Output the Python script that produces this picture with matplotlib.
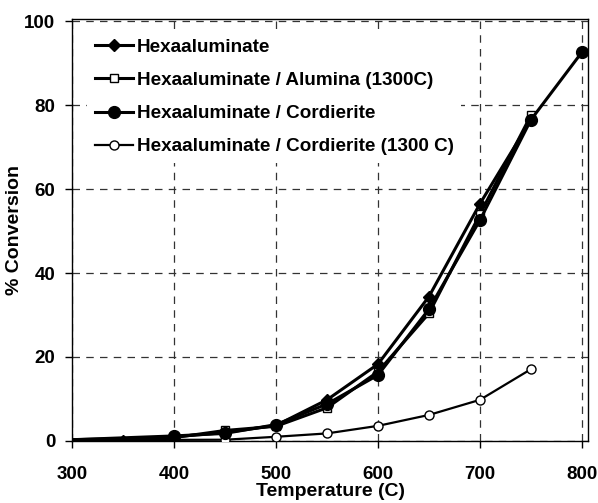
import numpy as np
import matplotlib.pyplot as plt

plt.rcParams['font.family'] = ['Liberation Sans', 'DejaVu Sans']
plt.rcParams['font.weight'] = 'bold'

# data
t_hexa = [300, 350, 400, 450, 500, 550, 600, 650, 700, 750]
c_hexa = [0.3, 0.0, 1.0, 2.0, 3.7, 9.8, 18.3, 34.4, 56.5, 76.5]

t_alum = [300, 400, 450, 500, 550, 600, 650, 700, 750]
c_alum = [0.3, 0.8, 2.5, 3.5, 7.9, 16.5, 30.4, 54.0, 77.6]

t_cord = [300, 400, 450, 500, 550, 600, 650, 700, 750, 800]
c_cord = [0.3, 1.2, 1.8, 3.9, 8.8, 15.7, 31.4, 52.6, 76.5, 92.6]

t_cord13 = [300, 450, 500, 550, 600, 650, 700, 750]
c_cord13 = [0.2, 0.3, 1.0, 1.8, 3.6, 6.2, 9.8, 17.1]

fig = plt.figure(figsize=(5.98, 5.03), dpi=100)
ax = fig.add_axes([0.1204, 0.1233, 0.863, 0.839])

lw = 2.2
ax.plot(t_hexa, c_hexa, color='black', lw=lw, marker='D', ms=6.5, mfc='black', mec='black',
        markevery=range(1, len(t_hexa)), label='Hexaaluminate', zorder=4)
ax.plot(t_alum, c_alum, color='black', lw=lw, marker='s', ms=6, mfc='white', mec='black', mew=1,
        markevery=range(1, len(t_alum)), label='Hexaaluminate / Alumina (1300C)', zorder=3)
ax.plot(t_cord, c_cord, color='black', lw=lw, marker='o', ms=8.5, mfc='black', mec='black',
        markevery=range(1, len(t_cord)), label='Hexaaluminate / Cordierite', zorder=5)
ax.plot(t_cord13, c_cord13, color='black', lw=1.6, marker='o', ms=6.5, mfc='white', mec='black', mew=1,
        markevery=range(1, len(t_cord13)), label='Hexaaluminate / Cordierite (1300 C)', zorder=3)

ax.set_xlim(300, 806)
ax.set_ylim(0, 100.5)
ax.set_xticks([300, 400, 500, 600, 700, 800])
ax.set_yticks([0, 20, 40, 60, 80, 100])
ax.tick_params(direction='out', length=5, width=1, labelsize=13.5)
ax.tick_params(axis='x', pad=13)
ax.tick_params(axis='y', pad=7)
for lab in ax.get_xticklabels() + ax.get_yticklabels():
    lab.set_fontweight('bold')

ax.grid(True, color='#333333', linestyle=(0, (6, 5)), linewidth=0.9)
ax.set_axisbelow(True)
for s in ax.spines.values():
    s.set_linewidth(1)

ax.set_xlabel('Temperature (C)', fontsize=14, fontweight='bold', labelpad=0)
ax.set_ylabel('% Conversion', fontsize=14, fontweight='bold', labelpad=1)

leg = ax.legend(loc='upper left', bbox_to_anchor=(0.03, 0.972), frameon=True, fontsize=13.6,
                handlelength=2.0, handletextpad=0.2, labelspacing=0.85, borderaxespad=0,
                borderpad=0.4)
leg.get_frame().set_edgecolor('none')
leg.get_frame().set_facecolor('white')
leg.get_frame().set_alpha(1)
leg.get_frame().set_boxstyle('square', pad=0)
for txt in leg.get_texts():
    txt.set_fontweight('bold')

fig.savefig('out.png', dpi=100)
